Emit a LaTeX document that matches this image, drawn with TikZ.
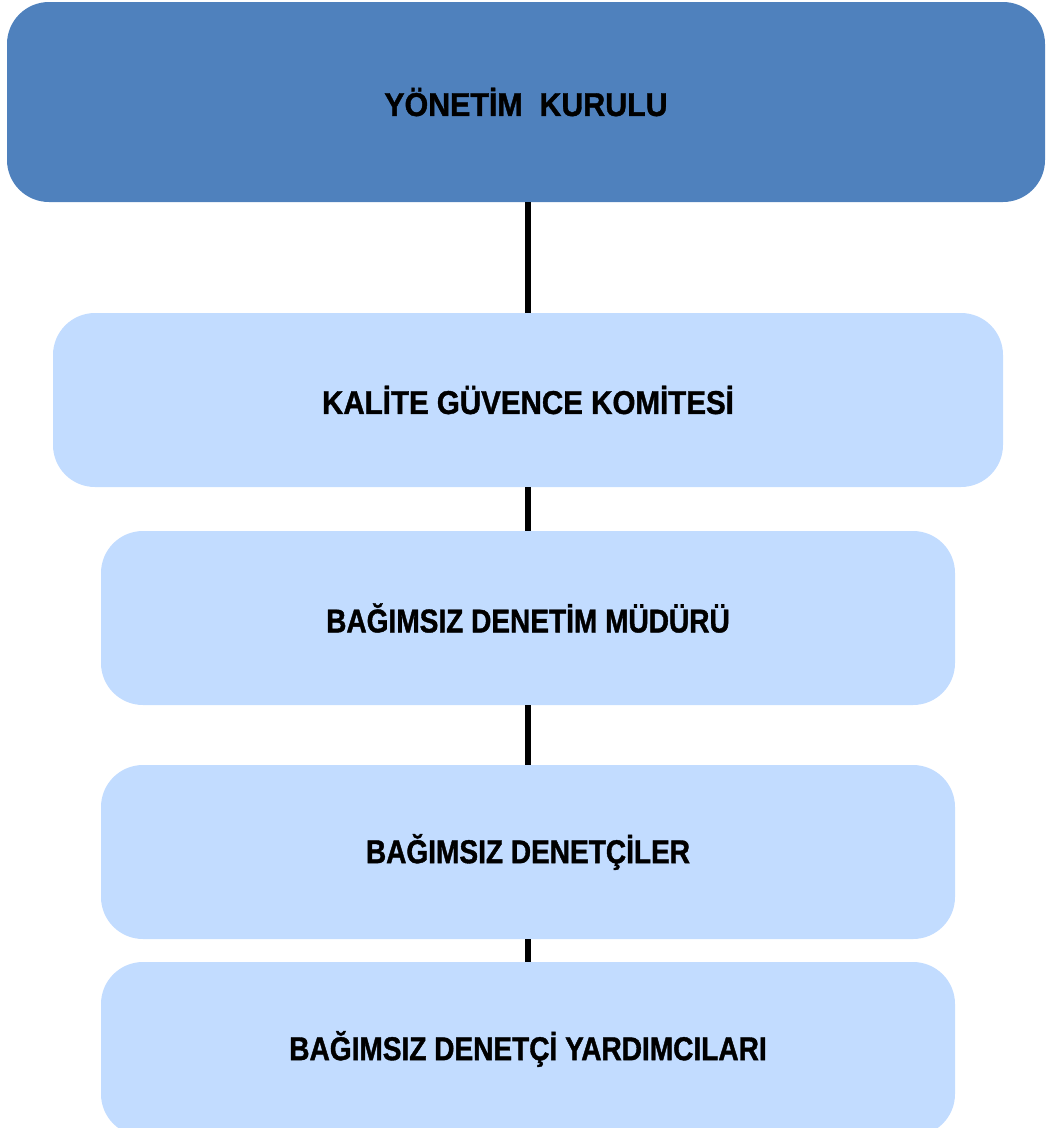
\documentclass[tikz,border=0pt]{standalone}
\usepackage{fontspec}
\newfontfamily\boxfont[FakeStretch=0.85,FakeBold=1.2]{Liberation Sans}
\newfontfamily\topfont[FakeStretch=0.92,FakeBold=1.2]{Liberation Sans}
\newfontfamily\kgkfont[FakeStretch=0.895,FakeBold=1.2]{Liberation Sans}
\definecolor{topblue}{RGB}{79,129,189}
\definecolor{lightblue}{RGB}{194,220,255}
\tikzset{
  boxbase/.style={rounded corners=42pt, inner sep=0pt, font=\boxfont\bfseries\fontsize{33}{38}\selectfont, text=black},
  topbox/.style={boxbase, fill=topblue, minimum width=1038pt, minimum height=200pt, font=\topfont\bfseries\fontsize{33}{38}\selectfont},
  widebox/.style={boxbase, fill=lightblue, minimum width=950pt, minimum height=174pt, font=\kgkfont\bfseries\fontsize{33}{38}\selectfont},
  midbox/.style={boxbase, fill=lightblue, minimum width=854pt, minimum height=174pt},
  link/.style={line width=6pt, black}
}
\begin{document}
\begin{tikzpicture}[x=1pt,y=-1pt]
\useasboundingbox (0,0) rectangle (1045,1128);
\begin{scope}
\clip (0,0) rectangle (1045,1128);
\node[topbox] (yk) at (526,102) {Y\"ONET\.IM\ \ KURULU};
\node[widebox] (kgk) at (528,400) {KAL\.ITE G\"UVENCE KOM\.ITES\.I};
\node[midbox] (bdm) at (528,618) {BA\u{G}IMSIZ DENET\.IM M\"UD\"UR\"U};
\node[midbox] (bd) at (528,852) {BA\u{G}IMSIZ DENET\c{C}\.ILER};
\node[midbox] (bdy) at (528,1049) {BA\u{G}IMSIZ DENET\c{C}\.I YARDIMCILARI};
\draw[link] (yk.south -| kgk.north) -- (kgk.north);
\draw[link] (kgk.south) -- (bdm.north);
\draw[link] (bdm.south) -- (bd.north);
\draw[link] (bd.south) -- (bdy.north);
\end{scope}
\end{tikzpicture}
\end{document}
